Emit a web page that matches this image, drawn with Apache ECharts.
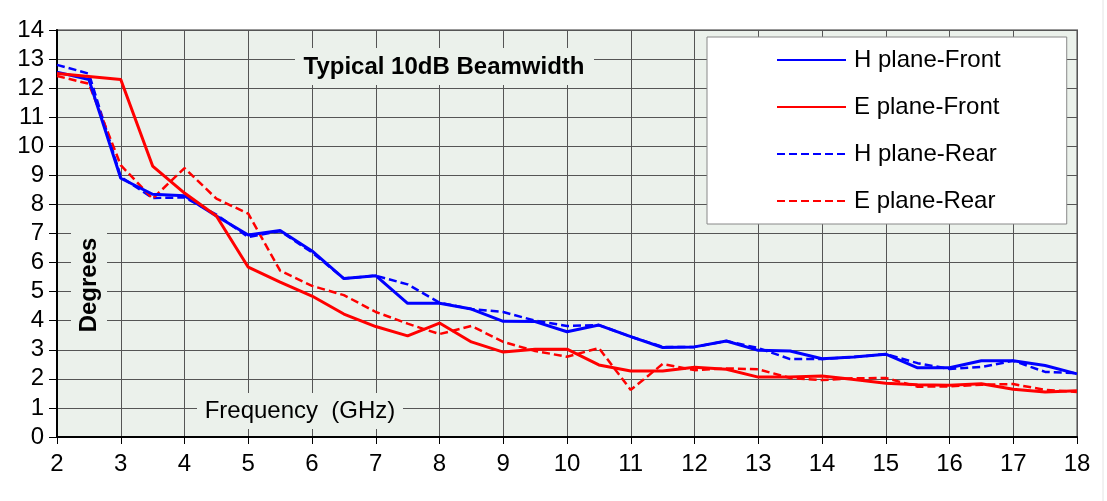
<!DOCTYPE html>
<html>
<head>
<meta charset="utf-8">
<script src="https://cdn.jsdelivr.net/npm/echarts@6/dist/echarts.min.js"></script>
<style>
  html, body { margin:0; padding:0; background:#fff; }
  #plot { width:1107px; height:501px; }
</style>
</head>
<body>
<div id="plot"></div>
<script>
// Frequency (GHz) and beamwidth (degrees)
const freqs = [2,2.5,3,3.5,4,4.5,5,5.5,6,6.5,7,7.5,8,8.5,9,9.5,10,10.5,11,11.5,12,12.5,13,13.5,14,14.5,15,15.5,16,16.5,17,17.5,18];
const hFront = [12.55,12.3,8.9,8.35,8.3,7.6,6.95,7.1,6.4,5.45,5.55,4.6,4.6,4.4,3.98,3.97,3.62,3.85,3.45,3.08,3.1,3.3,2.98,2.96,2.69,2.75,2.85,2.38,2.38,2.62,2.62,2.46,2.17];
const eFront = [12.5,12.4,12.3,9.32,8.39,7.6,5.84,5.33,4.85,4.23,3.8,3.48,3.92,3.27,2.92,3.02,3.02,2.48,2.27,2.27,2.4,2.33,2.06,2.06,2.1,1.98,1.85,1.8,1.78,1.83,1.64,1.55,1.59];
const hRear = [12.8,12.5,8.95,8.22,8.24,7.65,6.88,7.08,6.35,5.45,5.55,5.25,4.62,4.4,4.3,4.0,3.82,3.85,3.45,3.1,3.1,3.3,3.06,2.68,2.68,2.75,2.85,2.54,2.34,2.41,2.62,2.24,2.2];
const eRear = [12.42,12.15,9.35,8.2,9.25,8.2,7.68,5.72,5.2,4.88,4.3,3.9,3.54,3.82,3.27,2.96,2.76,3.06,1.62,2.51,2.3,2.36,2.33,2.03,1.96,2.02,2.03,1.73,1.74,1.8,1.82,1.62,1.55];
const seriesNames = ['H plane-Front','E plane-Front','H plane-Rear','E plane-Rear'];

const FONT = '"Liberation Sans", Arial, sans-serif';
const plotBg = '#EBF1EB';
const gridCol = '#555';

const el = document.getElementById('plot');
const chart = echarts.init(el, null, { renderer:'canvas' });

function pairs(vals) { return freqs.map((f, i) => [f, vals[i]]); }

function lineSeries(name, vals, color, dashed, width) {
  return {
    type:'line', name, data: pairs(vals),
    symbol:'none', smooth:false, silent:true, animation:false,
    lineStyle:{ color, width, type: dashed ? [8,4] : 'solid' },
    itemStyle:{ color },
    z: dashed ? 3 : 4
  };
}

chart.setOption({
  backgroundColor:'#fff',
  animation:false,
  grid: { left:57, right:30, top:30, bottom:64, show:true,
          backgroundColor:plotBg, borderColor:'#999', borderWidth:2 },
  xAxis: {
    type:'value', min:2, max:18, interval:1,
    axisLine:{ show:true, onZero:false, lineStyle:{ color:'#000', width:2 } },
    axisTick:{ show:true, length:7, lineStyle:{ color:'#000', width:1 } },
    axisLabel:{ color:'#000', fontFamily:FONT, fontSize:24, margin:15 },
    splitLine:{ show:true, lineStyle:{ color:gridCol, width:1 } }
  },
  yAxis: {
    type:'value', min:0, max:14, interval:1,
    axisLine:{ show:true, onZero:false, lineStyle:{ color:'#000', width:2 } },
    axisTick:{ show:true, length:8, lineStyle:{ color:'#000', width:1 } },
    axisLabel:{ color:'#000', fontFamily:FONT, fontSize:24, margin:13 },
    splitLine:{ show:true, lineStyle:{ color:gridCol, width:1 } }
  },
  legend: {
    orient:'vertical', left:707, top:37,
    padding:[11, 66, 11, 69],
    itemWidth:69, itemHeight:14, itemGap:23,
    backgroundColor:'#fff', borderColor:'#888', borderWidth:1,
    itemStyle:{ opacity:0 },
    textStyle:{ color:'#000', fontFamily:FONT, fontSize:24, padding:[0,0,0,3] },
    data: seriesNames
  },
  graphic: [
    { type:'rect', z:5, silent:true, shape:{ x:295, y:48, width:299, height:37 }, style:{ fill:plotBg } },
    { type:'text', z:6, silent:true, x:444, y:67,
      style:{ text:'Typical 10dB Beamwidth', fill:'#000', font:'bold 24px ' + FONT, align:'center', verticalAlign:'middle' } },
    { type:'rect', z:5, silent:true, shape:{ x:71, y:230, width:36, height:105 }, style:{ fill:plotBg } },
    { type:'text', z:6, silent:true, x:89, y:285, rotation:Math.PI/2,
      style:{ text:'Degrees', fill:'#000', font:'bold 24px ' + FONT, align:'center', verticalAlign:'middle' } },
    { type:'rect', z:5, silent:true, shape:{ x:197, y:393, width:206, height:36 }, style:{ fill:plotBg } },
    { type:'text', z:6, silent:true, x:300, y:411,
      style:{ text:'Frequency  (GHz)', fill:'#000', font:'24px ' + FONT, align:'center', verticalAlign:'middle' } },
    { type:'line', z:1, silent:true, shape:{ x1:1103, y1:0, x2:1103, y2:501 }, style:{ stroke:'#e4e4e4', lineWidth:1 } }
  ],
  series: [
    lineSeries(seriesNames[0], hFront, '#0000FF', false, 3),
    lineSeries(seriesNames[1], eFront, '#FF0000', false, 3),
    lineSeries(seriesNames[2], hRear, '#0000FF', true, 2.5),
    lineSeries(seriesNames[3], eRear, '#FF0000', true, 2.5)
  ]
});

window.addEventListener('resize', () => chart.resize(), { passive:true });
</script>
</body>
</html>
